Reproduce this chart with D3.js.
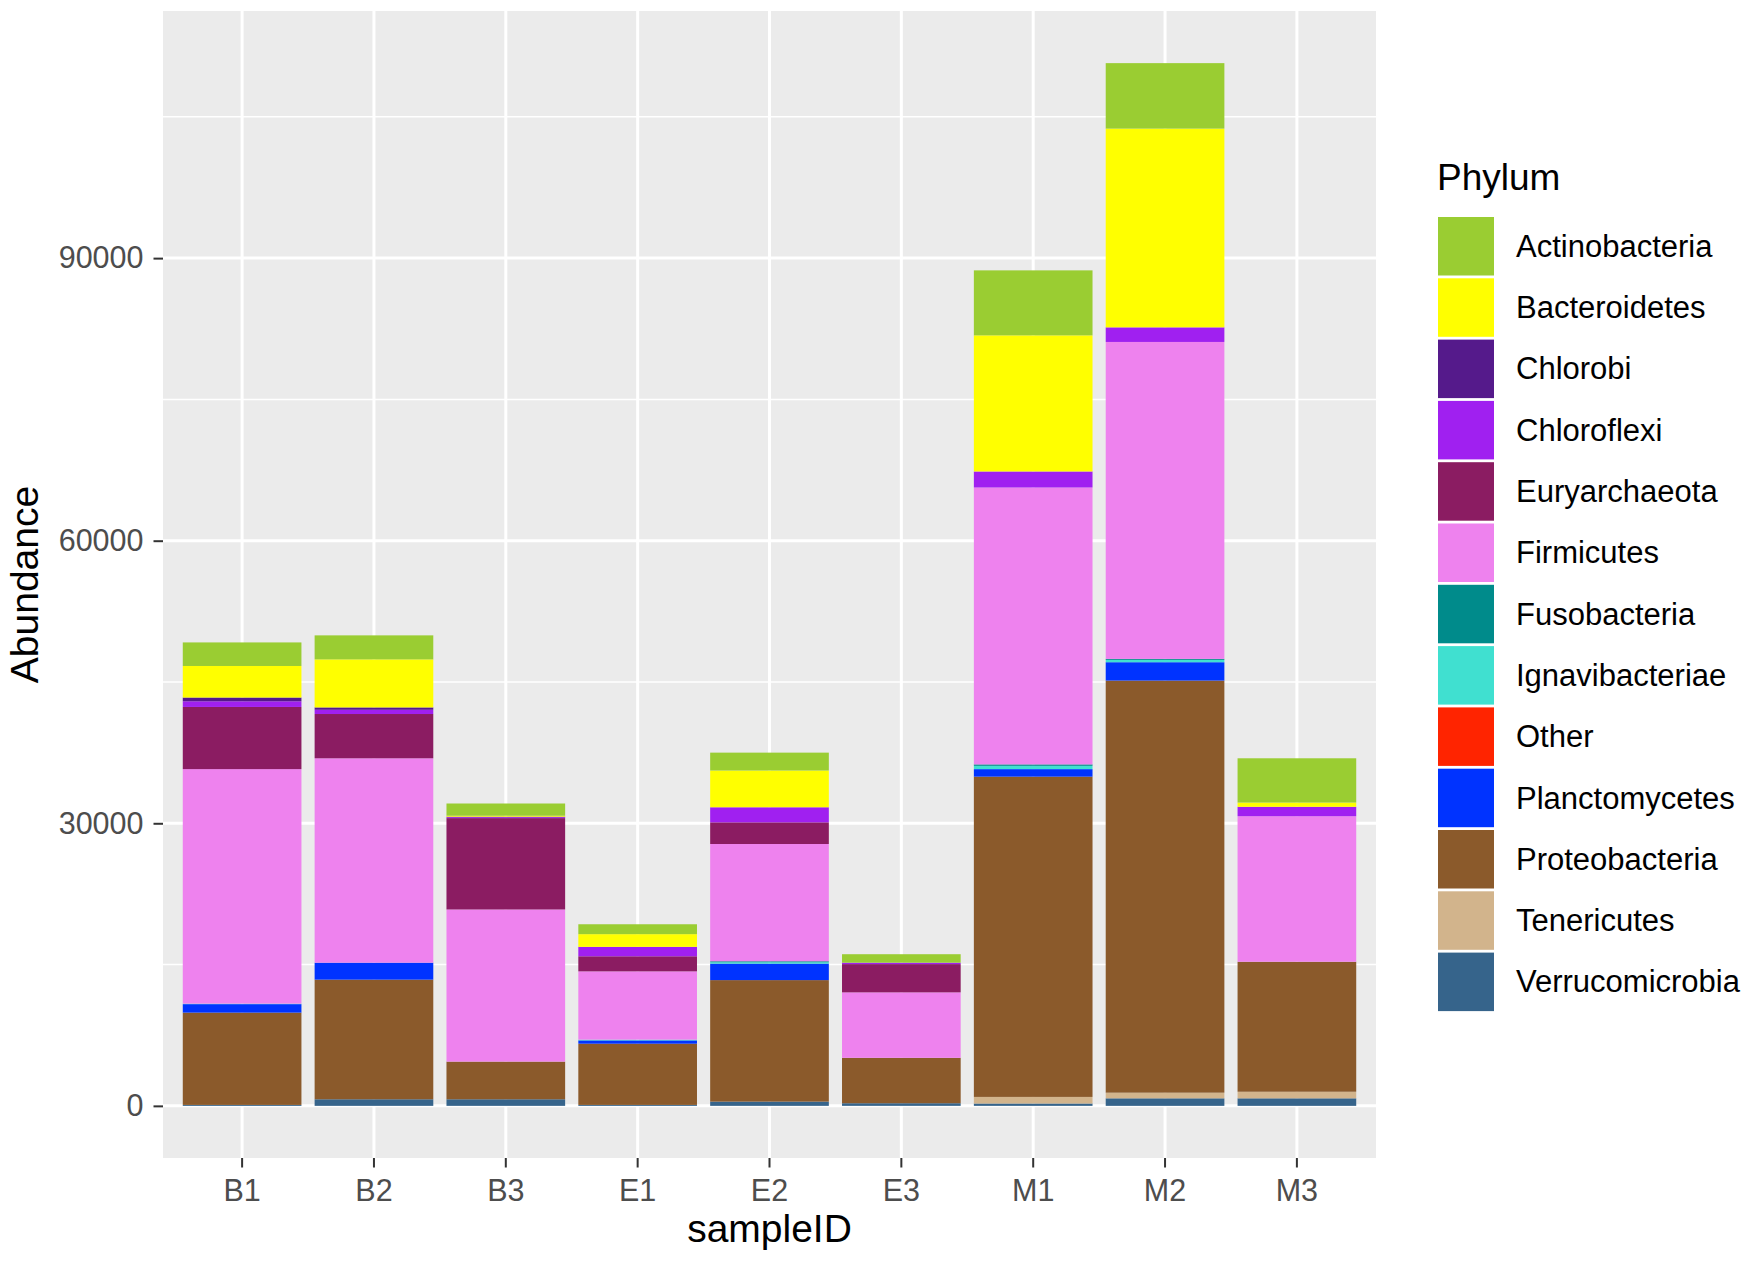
<!DOCTYPE html>
<html>
<head>
<meta charset="utf-8">
<script src="https://cdn.jsdelivr.net/npm/d3@7"></script>
<style>
  body { margin: 0; background: #fff; }
  svg { display: block; font-family: "Liberation Sans", Arial, sans-serif; }
</style>
</head>
<body>
<script>
// samples on the x axis
var samples = ['B1', 'B2', 'B3', 'E1', 'E2', 'E3', 'M1', 'M2', 'M3'];

// phyla in legend order (first one ends up on top of each stack)
var phyla = ['Actinobacteria', 'Bacteroidetes', 'Chlorobi', 'Chloroflexi', 'Euryarchaeota',
             'Firmicutes', 'Fusobacteria', 'Ignavibacteriae', 'Other', 'Planctomycetes',
             'Proteobacteria', 'Tenericutes', 'Verrucomicrobia'];
var phylumColors = ['#9ACD32', '#FFFF00', '#551A8B', '#A020F0', '#8B1C62',
                    '#EE82EE', '#008B8B', '#40E0D0', '#FF2400', '#0033FF',
                    '#8B5A2B', '#D2B48C', '#36648B'];

// abundance per sample, B1..M3
var actinobacteria  = [2500, 2550, 1300, 1050, 1900, 900, 6900, 6950, 4700];
var bacteroidetes   = [3350, 5100, 100, 1350, 3900, 0, 14450, 21100, 450];
var chlorobi        = [400, 250, 50, 0, 0, 0, 0, 0, 0];
var chloroflexi     = [600, 450, 100, 1000, 1600, 150, 1700, 1550, 1000];
var euryarchaeota   = [6600, 4700, 9700, 1600, 2300, 3000, 0, 0, 0];
var firmicutes      = [24900, 21700, 16150, 7250, 12450, 6950, 29400, 33650, 15450];
var fusobacteria    = [0, 0, 0, 0, 100, 0, 150, 100, 0];
var ignavibacteriae = [50, 0, 0, 80, 150, 0, 350, 250, 0];
var other           = [0, 0, 0, 0, 0, 0, 0, 0, 0];
var planctomycetes  = [900, 1800, 0, 350, 1750, 0, 800, 1950, 0];
var proteobacteria  = [9800, 12700, 4000, 6500, 12900, 4820, 34000, 43750, 13800];
var tenericutes     = [0, 0, 0, 0, 0, 0, 700, 600, 700];
var verrucomicrobia = [100, 700, 700, 100, 450, 280, 250, 800, 800];

var yMajorTicks = [0, 30000, 60000, 90000];
var yMinorTicks = [15000, 45000, 75000, 105000];

var series = [actinobacteria, bacteroidetes, chlorobi, chloroflexi, euryarchaeota, firmicutes,
              fusobacteria, ignavibacteriae, other, planctomycetes, proteobacteria,
              tenericutes, verrucomicrobia];

var table = samples.map(function(s, i) {
    var row = { sample: s };
    phyla.forEach(function(p, j) { row[p] = series[j][i]; });
    return row;
});

var W = 1750, H = 1262;
var panel = { left: 163, right: 1376, top: 11, bottom: 1158 };

var svg = d3.select('body').append('svg').attr('width', W).attr('height', H);

// ggplot discrete scale: 0.6 units of room either side, bars 0.9 wide
var x = d3.scaleBand().domain(samples)
    .range([panel.left, panel.right])
    .paddingInner(0.1).paddingOuter(0.15);

var totals = table.map(function(r) { return d3.sum(phyla, function(p) { return r[p]; }); });
var maxTotal = d3.max(totals);
var y = d3.scaleLinear()
    .domain([-maxTotal * 0.05, maxTotal * 1.05])
    .range([panel.bottom, panel.top]);

var color = d3.scaleOrdinal().domain(phyla).range(phylumColors);

// panel background + grid
svg.append('rect')
    .attr('x', panel.left).attr('y', panel.top)
    .attr('width', panel.right - panel.left).attr('height', panel.bottom - panel.top)
    .attr('fill', '#EBEBEB');

svg.selectAll('line.minor').data(yMinorTicks).enter().append('line')
    .attr('x1', panel.left).attr('x2', panel.right)
    .attr('y1', function(d) { return y(d); }).attr('y2', function(d) { return y(d); })
    .attr('stroke', '#fff').attr('stroke-width', 1.5);

svg.selectAll('line.major').data(yMajorTicks).enter().append('line')
    .attr('x1', panel.left).attr('x2', panel.right)
    .attr('y1', function(d) { return y(d); }).attr('y2', function(d) { return y(d); })
    .attr('stroke', '#fff').attr('stroke-width', 3);

svg.selectAll('line.vert').data(samples).enter().append('line')
    .attr('x1', function(d) { return x(d) + x.bandwidth() / 2; })
    .attr('x2', function(d) { return x(d) + x.bandwidth() / 2; })
    .attr('y1', panel.top).attr('y2', panel.bottom)
    .attr('stroke', '#fff').attr('stroke-width', 3);

// stacked bars, bottom of stack = last phylum
var stack = d3.stack().keys(phyla.slice().reverse());
var layers = stack(table);

svg.append('g').selectAll('g').data(layers).enter().append('g')
    .attr('fill', function(d) { return color(d.key); })
    .selectAll('rect').data(function(d) { return d; }).enter().append('rect')
    .attr('x', function(d) { return x(d.data.sample); })
    .attr('width', x.bandwidth())
    .attr('y', function(d) { return y(d[1]); })
    .attr('height', function(d) { return Math.max(0, y(d[0]) - y(d[1])); });

// axes
var yAxis = svg.append('g').attr('transform', 'translate(' + panel.left + ',0)')
    .call(d3.axisLeft(y).tickValues(yMajorTicks).tickSize(9.5).tickPadding(10).tickFormat(d3.format('d')));
var xAxis = svg.append('g').attr('transform', 'translate(0,' + panel.bottom + ')')
    .call(d3.axisBottom(x).tickSize(9.5).tickPadding(12));

[yAxis, xAxis].forEach(function(a) {
    a.select('.domain').remove();
    a.selectAll('.tick line').attr('stroke', '#333').attr('stroke-width', 2);
    a.selectAll('.tick text').attr('fill', '#4D4D4D').attr('font-size', 30.5)
        .attr('font-family', '"Liberation Sans", Arial, sans-serif');
});

// axis titles
svg.append('text')
    .attr('x', (panel.left + panel.right) / 2).attr('y', 1242)
    .attr('text-anchor', 'middle').attr('font-size', 39).attr('fill', '#000')
    .text('sampleID');
svg.append('text')
    .attr('transform', 'translate(38,' + (panel.top + panel.bottom) / 2 + ') rotate(-90)')
    .attr('text-anchor', 'middle').attr('font-size', 39).attr('fill', '#000')
    .text('Abundance');

// legend
var legend = svg.append('g').attr('transform', 'translate(1437,0)');
legend.append('text').attr('x', 0).attr('y', 190).attr('font-size', 37).attr('fill', '#000').text('Phylum');

var keys = legend.selectAll('g.key').data(phyla).enter().append('g')
    .attr('transform', function(d, i) { return 'translate(0,' + (216 + i * 61.3) + ')'; });
keys.append('rect').attr('x', 1).attr('y', 1).attr('width', 56).attr('height', 58.5)
    .attr('fill', function(d) { return color(d); });
keys.append('text').attr('x', 79).attr('y', 30).attr('dy', '0.35em')
    .attr('font-size', 31).attr('fill', '#000')
    .text(function(d) { return d; });
</script>
</body>
</html>
